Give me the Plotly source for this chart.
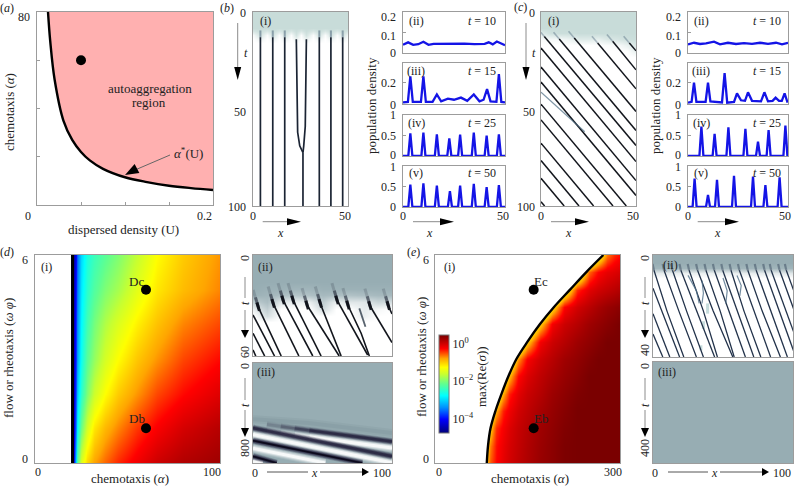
import plotly.graph_objects as go

W, H = 796, 486
FONT = "Liberation Serif"
INK = "#222222"
FRAME = "#9c9c9c"
BLUE = "#1414e6"
STRIPE = "#12151c"

# ---------- (a)
a_U = [0.0125, 0.015, 0.02, 0.03, 0.04, 0.05, 0.06, 0.075, 0.1, 0.125, 0.15, 0.175, 0.2]
a_alpha = [80, 68, 52, 35, 27, 22, 18.5, 15, 11.5, 9.5, 8, 7, 6.2]
a_dot = ([0.05], [60])

# ---------- (b)(i) stripes: x, t
b1_stripes = [
    ([3.9, 3.9], [13, 100]), ([10.4, 10.4], [13, 100]), ([16.7, 16.7], [13, 100]),
    ([22.8, 23.0, 23.5, 24.6, 25.8, 26.3], [14, 40, 62, 69, 72, 72.5]),
    ([28.1, 27.9, 27.5, 26.7, 26.3], [14, 35, 59, 69, 72.5]),
    ([26.3, 26.3], [72.5, 100]),
    ([34.9, 34.9], [13, 100]), ([41, 41], [13, 100]), ([47.2, 47.2], [13, 100]),
]
b1_x = [0, 3.9, 7.2, 10.4, 13.5, 16.7, 19.8, 22.8, 25.5, 28.1, 31.5, 34.9, 38, 41, 44.1, 47.2, 50]
b1_t = [0, 8, 10, 12, 14, 16]
b1_z = [
    [1] * 17,
    [1] * 17,
    [.75, .95, .7, .95, .7, .95, .7, .95, .7, .95, .7, .95, .7, .95, .7, .95, .75],
    [.15, .8, .1, .8, .1, .8, .1, .8, .1, .8, .1, .8, .1, .8, .1, .8, .15],
    [0, .35, 0, .35, 0, .35, 0, .35, 0, .35, 0, .35, 0, .35, 0, .35, 0],
    [0] * 17,
]

# ---------- (c)(i) stripes
c1_stripes = [
    ([1.75, 50], [12.6, 68.8]), ([9.6, 50], [13.9, 61.1]), ([17.5, 50], [13.4, 51.3]),
    ([29.8, 50], [16, 39.6]), ([37.7, 50], [15.1, 29.8]), ([46.5, 50], [16, 20]),
    ([0, 50], [18.6, 77.1]), ([0, 50], [28.4, 86.9]), ([0, 50], [36.1, 94.6]),
    ([0, 44.9], [47.5, 100]), ([0, 37.9], [55.6, 100]), ([0, 27.7], [67.6, 100]),
    ([0, 20], [76.6, 100]), ([0, 12.2], [85.7, 100]), ([0, 1.9], [97.8, 100]),
]
c1_faint = ([0, 23], [41.3, 61.7])
c1_x = [0, 5, 10, 15, 20, 25, 30, 35, 40, 45, 50]
c1_t = [0, 8, 11, 14, 17, 20, 23]
c1_z = [
    [1] * 11,
    [1] * 11,
    [.6, .9, .95, .95, 1, 1, 1, 1, 1, 1, 1],
    [.1, .2, .2, .35, .6, .6, .45, .7, .75, .9, .95],
    [0, 0, 0, 0, 0, 0, .05, .1, .15, .4, .7],
    [0, 0, 0, 0, 0, 0, 0, 0, 0, .05, .45],
    [0] * 11,
]

# ---------- density profiles: x, value
bii_x = [0, 2.5, 5, 7.5, 10, 12.5, 15, 20, 25, 30, 35, 40, 42, 44, 46, 48, 50]
bii_y = [.04, .052, .04, .043, .055, .04, .045, .046, .045, .046, .043, .045, .052, .042, .056, .045, .038]
biii_x = [0, 2.4, 3.6, 4.8, 8.8, 10, 11.2, 14.5, 16.6, 18.7, 22, 25, 28.4, 31.5, 34.7, 37.5, 39.5, 41.2, 42.9, 45.8, 47, 48.2, 50]
biii_y = [.015, .02, .26, .02, .02, .26, .02, .02, .09, .025, .05, .04, .06, .03, .09, .025, .04, .14, .025, .02, .28, .02, .015]
biv_x = [0, 2.6, 3.6, 4.6, 9, 10, 11, 15.6, 16.6, 17.6, 21.7, 22.7, 23.7, 27, 28, 29, 33.7, 34.7, 35.7, 40, 41, 42, 46, 47, 48, 50]
biv_y = [0, 0, .55, 0, 0, .57, 0, 0, .53, 0, 0, .43, 0, 0, .52, 0, 0, .57, 0, 0, .5, 0, 0, .53, 0, 0]
bv_x = [0, 2.6, 3.6, 4.6, 9, 10, 11, 15.6, 16.6, 17.6, 22, 23, 24, 27, 28, 29, 33.7, 34.7, 35.7, 40, 41, 42, 46, 47, 48, 50]
bv_y = [0, 0, .55, 0, 0, .58, 0, 0, .53, 0, 0, .39, 0, 0, .53, 0, 0, .57, 0, 0, .49, 0, 0, .54, 0, 0]
cii_x = [0, 3, 6, 9, 13, 16, 20, 24, 28, 32, 36, 40, 44, 47, 50]
cii_y = [.042, .05, .044, .047, .055, .042, .05, .044, .048, .045, .05, .045, .05, .042, .05]
ciii_x = [0, 1.8, 3, 4.2, 8.8, 10, 11.2, 17, 18.3, 19.6, 23, 24.5, 26.5, 28.5, 30, 32, 36.5, 38.2, 40, 42.3, 43.8, 45.5, 46.9, 48.3, 49.8]
ciii_y = [.012, .02, .2, .02, .02, .2, .025, .015, .29, .012, .02, .1, .035, .03, .11, .03, .025, .11, .025, .03, .06, .03, .03, .1, .012]
civ_x = [0, 5.7, 6.7, 7.7, 12.3, 13.3, 14.3, 19.2, 20.2, 21.2, 27.7, 28.7, 29.7, 34, 35, 36, 39.3, 40.3, 41.3, 47.7, 48.7, 49.7]
civ_y = [0, 0, .72, 0, 0, .54, 0, 0, .7, 0, 0, .66, 0, 0, .35, 0, 0, .63, 0, 0, .74, 0]
cv_x = [0, 2.3, 3.3, 4.3, 9, 10, 11, 13.5, 14.5, 15.5, 22, 23, 24, 31.5, 32.5, 33.5, 37.7, 38.7, 39.7, 44.8, 45.8, 46.8, 50]
cv_y = [0, 0, .7, 0, 0, .3, 0, 0, .67, 0, 0, .77, 0, 0, .75, 0, 0, .54, 0, 0, .73, 0, 0]

# ---------- (d)(i) growth rate log10
d1_alpha = [20, 21, 22, 23, 25, 28, 32, 38, 45, 55, 66, 80, 100]
d1_phi = [0, 1, 2, 3, 4, 5, 6]
d1_z = [
    [-4.77, -3.9, -2.9, -2.2, -1.5, -1.05, -.8, -.6, -.4, -.2, 0, .15, .25],
    [-4.77, -4.1, -3.4, -2.8, -2.1, -1.55, -1.15, -.9, -.7, -.45, -.25, -.05, .12],
    [-4.77, -4.2, -3.6, -3.1, -2.5, -2.0, -1.6, -1.27, -1.0, -.75, -.5, -.3, -.1],
    [-4.77, -4.25, -3.75, -3.3, -2.7, -2.2, -1.9, -1.55, -1.27, -.98, -.75, -.5, -.3],
    [-4.77, -4.3, -3.8, -3.4, -2.8, -2.35, -2.05, -1.75, -1.5, -1.2, -.95, -.7, -.5],
    [-4.77, -4.35, -3.9, -3.5, -2.9, -2.5, -2.25, -2.0, -1.8, -1.45, -1.15, -.92, -.7],
    [-4.77, -4.4, -4.0, -3.6, -3.0, -2.6, -2.4, -2.2, -2.0, -1.65, -1.27, -1.0, -.75],
]
d1_edge = ([20.3, 20.3], [0, 6])
d1_dots = ([60, 60], [1, 5])

# ---------- (d)(ii)
d2_stripes = [
    ([3.6, 20.3], [30.7, 60]), ([14.4, 33], [28.7, 60]), ([21.5, 43], [26.7, 60]),
    ([28.7, 49], [26.7, 60]), ([38.8, 62], [29.7, 60]), ([48.3, 63.4], [28.7, 60]),
    ([60.3, 82.5], [26.7, 59.4]), ([68.2, 77.8, 83.7], [29.7, 46.5, 60]),
    ([84, 100], [30, 52]), ([97.2, 100], [30, 35]),
    ([0, 15.5], [35.6, 60]), ([0, 8.4], [46.5, 60]), ([0, 2], [56.4, 60]),
]
d2_faint = ([76.5, 80.9], [31.7, 42.6])
d2_x = [0, 10, 20, 30, 40, 50, 60, 70, 80, 90, 100]
d2_t = [0, 16, 20, 24, 28, 32, 36, 40]
d2_z = [
    [1] * 11,
    [1] * 11,
    [1, .95, .95, .9, .9, .95, .95, .95, .95, .95, .95],
    [.95, .9, .8, .7, .75, .85, .8, .75, .8, .85, .85],
    [.6, .8, .3, .2, .2, .6, .2, .3, .3, .5, .4],
    [.2, .6, 0, 0, 0, .45, 0, 0, .25, .1, 0],
    [0, .4, 0, 0, 0, 0, 0, 0, .2, 0, 0],
    [0] * 11,
]

# ---------- (d)(iii)
d3_dark = [
    ([0, 100], [520, 747]), ([0, 78.6], [621, 800]), ([0, 17], [747, 800]),
    ([40.5, 100], [539, 629]),
]
d3_light = [
    ([0, 100], [572, 799]), ([0, 52], [682, 800]), ([0, 7], [788, 800]),
    ([40.5, 100], [590, 681]),
]
d3_soft = [([0, 40, 100], [450, 480, 560])]
d3_dark_fade = [([10, 20], [492, 508]), ([20, 30], [508, 523]), ([30, 40.5], [523, 539])]
d3_light_fade = [([10, 20], [543, 559]), ([20, 30], [559, 574]), ([30, 40.5], [574, 590])]
d3_fade_op = [.2, .4, .7]

# ---------- (e)(i)
e1_alpha = [80, 90, 100, 110, 120, 135, 150, 170, 190, 210, 230, 250, 265, 280, 290, 300]
e1_phi = [0, .5, 1, 1.5, 2, 2.5, 3, 3.5, 4, 4.5, 5, 5.5, 6]
e1_z = [
    [-1.2, -.56, -.29, -.14, -.04, .07, .16, .28, .35, .43, .45, .45, .45, .45, .45, .45],
    [-1.3, -.68, -.32, -.17, -.06, .05, .15, .27, .35, .43, .45, .45, .45, .45, .45, .45],
    [-1.5, -1, -.42, -.23, -.1, .03, .12, .25, .33, .41, .45, .45, .45, .45, .45, .45],
    [-1.9, -1.4, -.84, -.37, -.2, -.03, .07, .2, .3, .38, .45, .45, .45, .45, .45, .45],
    [-2.4, -1.9, -1.4, -.84, -.37, -.13, .01, .13, .26, .34, .42, .45, .45, .45, .45, .45],
    [-3, -2.45, -1.95, -1.45, -.92, -.29, -.09, .07, .19, .29, .37, .45, .45, .45, .45, .45],
    [-3, -3, -2.6, -2.1, -1.6, -.76, -.25, -.02, .11, .24, .32, .4, .45, .45, .45, .45],
    [-3, -3, -3, -3, -2.5, -1.75, -1, -.22, 0, .12, .25, .33, .39, .45, .45, .45],
    [-3, -3, -3, -3, -3, -2.75, -2, -1, -.22, 0, .12, .25, .31, .37, .41, .45],
    [-3, -3, -3, -3, -3, -3, -3, -2.15, -1.15, -.27, -.03, .1, .2, .28, .32, .36],
    [-3, -3, -3, -3, -3, -3, -3, -3, -2.45, -1.45, -.4, -.12, -.02, .05, .1, .15],
    [-3, -3, -3, -3, -3, -3, -3, -3, -3, -2.75, -1.75, -.6, -.28, -.15, -.1, -.05],
    [-3, -3, -3, -3, -3, -3, -3, -3, -3, -3, -3, -2.15, -1.4, -.65, -.42, -.3],
]
e1_edge_alpha = [84, 86, 90, 98, 108, 119, 132, 150, 170, 193, 219, 245, 273]
e1_edge_phi = [0, .5, 1, 1.5, 2, 2.5, 3, 3.5, 4, 4.5, 5, 5.5, 6]
e1_dots = ([160, 160], [1, 5])
cbar_vals = [0, -2, -4]
cbar_text = ["10<sup>0</sup>", "10<sup>−2</sup>", "10<sup>−4</sup>"]

# ---------- (e)(ii) stripes: x at t = 6, 22, 40
e2_t = [6, 22, 40]
e2_x = [
    [.7, 10, 22], [7.9, 18.5, 31], [13.9, 24, 36], [19.9, 31, 44], [25.8, 36, 46],
    [31.8, 43, 57], [37.8, 48, 58], [43.8, 54, 66], [49.8, 60, 72], [55.7, 65, 77],
    [61.7, 72, 84], [67.7, 78, 91], [73.7, 84, 96], [79.7, 90, 102], [84.4, 95, 107],
    [90.4, 101, 112], [95.2, 106, 118],
]
e2_left = [([0, 19], [13, 40]), ([0, 12], [23, 40]), ([0, 7], [31, 40])]
e2_branch = [([25, 31, 33], [8, 14, 19]), ([50, 53, 52], [9, 14, 19]), ([60, 63, 62], [8, 12, 16]), ([35, 36, 35], [10, 15, 19])]
e2_pale = [([39, 39], [19, 23]), ([36, 36], [26, 29]), ([34.2, 34.2], [35.4, 37.4])]
e2_grid_x = [0, 20, 40, 60, 80, 100]
e2_grid_t = [0, 3, 5, 7, 9]
e2_z = [[1] * 6, [1] * 6, [.9] * 6, [.25, .2, .2, .2, .25, .3], [0] * 6]

flat_x = [0, 100]
flat_t = [0, 1]
flat_z = [[1, 1], [1, 1]]
d3_flat_t = [0, 800]

# ---------- colours
GRID_GRAY = "#97adb3"
TOP_GREEN = "#c8dcd9"
JET = [[0, "#00007a"], [.14, "#0000ff"], [.26, "#0090ff"], [.38, "#00ffff"], [.5, "#60ff90"],
       [.6, "#c8ff30"], [.67, "#ffff00"], [.76, "#ffa500"], [.86, "#ff0000"], [1, "#7a0000"]]

fig = go.Figure()
axn = 0
shapes, notes = [], []


def P(px, py):
    return px / W, 1 - py / H


def panel(x0, x1, y0, y1, xr, yr, xt=None, yt=None):
    global axn
    axn += 1
    sx = "" if axn == 1 else str(axn)
    common = dict(showline=True, mirror=True, linecolor=FRAME, linewidth=1, showgrid=False, zeroline=False,
                  showticklabels=False, ticklen=3, tickcolor=FRAME, tickwidth=1)
    fig.layout["xaxis" + sx] = dict(common, domain=[x0 / W, x1 / W], range=xr, anchor="y" + sx,
                                    tickvals=xt or [], ticks="inside" if xt else "")
    fig.layout["yaxis" + sx] = dict(common, domain=[1 - y1 / H, 1 - y0 / H], range=yr, anchor="x" + sx,
                                    tickvals=yt or [], ticks="inside" if yt else "")
    return dict(xaxis="x" + sx, yaxis="y" + sx)


def bg(ax, x, y, z, col):
    fig.add_trace(go.Heatmap(x=x, y=y, z=z, zmin=0, zmax=1, zsmooth="best", showscale=False, hoverinfo="skip",
                             colorscale=[[0, "#ffffff"], [1, col]], **ax))


def line(ax, x, y, col=STRIPE, w=1.5, op=1.0, shape="linear"):
    fig.add_trace(go.Scatter(x=x, y=y, mode="lines", line=dict(color=col, width=w, shape=shape), opacity=op,
                             showlegend=False, hoverinfo="skip", **ax))


def dots(ax, x, y, size=10):
    fig.add_trace(go.Scatter(x=x, y=y, mode="markers", marker=dict(color="black", size=size),
                             showlegend=False, hoverinfo="skip", **ax))


def T(px, py, text, size=12, angle=0, anchor="center"):
    x, y = P(px, py)
    notes.append(dict(x=x, y=y, xref="paper", yref="paper", text=text, showarrow=False, textangle=angle,
                      xanchor=anchor, yanchor="middle", font=dict(family=FONT, size=size, color=INK)))


def seg(x0, y0, x1, y1, col="#8c8c8c", w=1):
    a, b = P(x0, y0), P(x1, y1)
    shapes.append(dict(type="line", xref="paper", yref="paper", x0=a[0], y0=a[1], x1=b[0], y1=b[1],
                       line=dict(color=col, width=w)))


def head(bx, by, tx, ty, half):
    dx, dy = tx - bx, ty - by
    n = (dx * dx + dy * dy) ** .5
    ox, oy = -dy / n * half, dx / n * half
    pts = [P(tx, ty), P(bx + ox, by + oy), P(bx - ox, by - oy)]
    path = "M{} {} L{} {} L{} {} Z".format(pts[0][0], pts[0][1], pts[1][0], pts[1][1], pts[2][0], pts[2][1])
    shapes.append(dict(type="path", xref="paper", yref="paper", path=path, fillcolor="black", line=dict(width=0)))


def stripes(ax, lst, w=1.6, col=STRIPE):
    for x, y in lst:
        line(ax, x, y, col, w)


def density(ax, x, y):
    line(ax, x, y, BLUE, 2.3)


# ----- (a)
ax = panel(37, 213, 12, 205, [0, .2], [0, 80], xt=[.05, .1, .15], yt=[20, 40, 60])
fig.add_trace(go.Scatter(x=a_U + [.2, a_U[0]], y=a_alpha + [80, 80], mode="lines", fill="toself", fillcolor="#ffb0b0",
                         line=dict(width=0), showlegend=False, hoverinfo="skip", **ax))
line(ax, a_U, a_alpha, "black", 2.4, shape="spline")
dots(ax, *a_dot)
T(150, 88, "autoaggregation", 13); T(149, 103, "region", 13)
T(188, 153, "<i>α</i><sup>*</sup>(U)", 13)
seg(170, 155, 135, 170, "#666666"); head(137, 168.5, 125, 175, 5)
T(9, 112, "chemotaxis (<i>α</i>)", 13, -90)
T(123, 229, "dispersed density (U)", 13)
T(24, 17, "80"); T(28, 216, "0"); T(204, 216, "0.2")
T(7, 8, "(<i>a</i>)")

# ----- (b)(i)
ax = panel(253, 348, 12, 206, [0, 50], [100, 0])
bg(ax, b1_x, b1_t, b1_z, TOP_GREEN)
for x, y in b1_stripes[:3] + b1_stripes[6:]:
    line(ax, [x[0], x[0]], [9.5, y[0]], "#35506a", 2, .45)
stripes(ax, b1_stripes, 1.7, "#1b2433")
T(265, 21, "(i)"); T(227, 8, "(<i>b</i>)")
T(248, 13, "0", anchor="right"); T(248, 112, "50", anchor="right"); T(248, 207, "100", anchor="right")
T(253, 216, "0"); T(345, 216, "50"); T(280, 233, "<i>x</i>"); T(246, 53, "<i>t</i>")
seg(237.7, 23, 237.7, 67); head(237.7, 67, 237.7, 80, 3.5)
seg(262.7, 221.7, 287, 221.7); head(287, 221.7, 301, 221.7, 3.5)

# ----- (b) profiles
rows = [(12, 53), (63, 104), (115, 156), (166, 207)]
row_y = [[0, .2], [0, .385], [0, 1], [0, 1.01]]
row_yt = [[.1], [.2], [.5], [.5]]
row_lab = ["(ii)", "(iii)", "(iv)", "(v)"]
row_t = ["10", "15", "25", "50"]
row_ly = [21, 71, 123, 173]
b_prof = [(bii_x, bii_y), (biii_x, biii_y), (biv_x, biv_y), (bv_x, bv_y)]
c_prof = [(cii_x, cii_y), (ciii_x, ciii_y), (civ_x, civ_y), (cv_x, cv_y)]
tick_text = [[("0.2", 17), ("0.1", 36), ("0", 53)], [("0.2", 83), ("0", 105)], [("1", 115), ("0.5", 136), ("0", 155)],
             [("1", 167), ("0.5", 187), ("0", 207)]]
for prof, x0, x1, labx, tlabx, tickx in ((b_prof, 403, 505, 416, 482, None), (c_prof, 688, 788, 701, 767, 683)):
    for i, (r, prf) in enumerate(zip(rows, prof)):
        ax = panel(x0, x1, r[0], r[1], [0, 50], row_y[i], yt=row_yt[i])
        density(ax, *prf)
        T(labx, row_ly[i], row_lab[i]); T(tlabx, row_ly[i], "<i>t</i> = " + row_t[i])
        for s, py in tick_text[i]:
            T(398 if tickx is None else tickx, py, s, anchor="right")
T(371, 106, "population density", 13, -90); T(655, 106, "population density", 13, -90)
T(403, 216, "0"); T(503, 216, "50"); T(430, 233, "<i>x</i>")
T(688, 216, "0"); T(785, 216, "50"); T(717, 233, "<i>x</i>")
seg(413, 221.7, 440, 221.7); head(440, 221.7, 454, 221.7, 3.5)
seg(697.7, 221.7, 725, 221.7); head(725, 221.7, 739, 221.7, 3.5)

# ----- (c)(i)
ax = panel(541, 636, 12, 206, [0, 50], [100, 0])
bg(ax, c1_x, c1_t, c1_z, TOP_GREEN)
for x, y in c1_stripes[:6]:
    line(ax, [x[0] - 3, x[0]], [y[0] - 3.5, y[0]], "#35506a", 1.6, .35)
stripes(ax, c1_stripes, 1.5)
line(ax, *c1_faint, "#4a6a80", 1.3, .7)
T(553, 21, "(i)"); T(520, 7, "(<i>c</i>)")
T(537, 13, "0", anchor="right"); T(537, 112, "50", anchor="right"); T(537, 207, "100", anchor="right")
T(541, 216, "0"); T(633, 216, "50"); T(568, 233, "<i>x</i>"); T(534, 53, "<i>t</i>")
seg(526, 23, 526, 67); head(526, 67, 526, 80, 3.5)
seg(551, 221.7, 575, 221.7); head(575, 221.7, 589, 221.7, 3.5)

# ----- (d)(i)
ax = panel(35, 220, 255, 463, [0, 100], [0, 6])
fig.add_trace(go.Heatmap(x=d1_alpha, y=d1_phi, z=d1_z, zmin=-4.77, zmax=.45, zsmooth="best", colorscale=JET,
                         showscale=False, hoverinfo="skip", **ax))
line(ax, *d1_edge, "black", 3)
dots(ax, *d1_dots)
T(136.7, 281, "Dc", 13); T(136.7, 418, "Db", 13); T(46, 267, "(i)")
T(8, 358, "flow or rheotaxis (<i>ω φ</i>)", 13, -90)
T(25, 260, "6"); T(25, 459, "0"); T(38, 472, "0"); T(212, 472, "100")
T(130, 478, "chemotaxis (<i>α</i>)", 13); T(7, 252, "(<i>d</i>)")

# ----- (d)(ii)
ax = panel(253, 392, 255, 356, [0, 100], [60, 0])
bg(ax, d2_x, d2_t, d2_z, GRID_GRAY)
for x, y in d2_stripes[:10]:
    line(ax, [x[0] - 3.5, x[0]], [y[0] - 10, y[0]], "#1a2030", 3, .18)
    line(ax, [x[0] - 1.8, x[0] + .5], [y[0] - 5.5, y[0] + 1], "#1a2030", 3, .5)
    line(ax, [x[0] - .8, x[0] + 1], [y[0] - 2.5, y[0] + 2.5], "#0d0f18", 3, .95)
stripes(ax, d2_stripes, 1.6)
line(ax, *d2_faint, "#22303f", 1.8, .75)
T(265, 267, "(ii)"); T(245, 258, "0", angle=-90); T(245, 352, "60", angle=-90); T(245, 303, "<i>t</i>", angle=-90)
seg(245, 277, 245, 298); seg(245, 310, 245, 330); head(245, 330, 245, 338, 4)

# ----- (d)(iii)
ax = panel(253, 392, 363, 463, [0, 100], [800, 0])
bg(ax, flat_x, d3_flat_t, flat_z, GRID_GRAY)
for x, y in d3_soft:
    line(ax, x, y, "#5f757e", 8, .1); line(ax, x, y, "#5f757e", 4, .12)
for (x, y), op in zip(d3_light_fade, d3_fade_op):
    for w, o in ((9, .15), (7, .25), (5, .45), (3, .7)):
        line(ax, x, y, "#ffffff", w, o * op)
for x, y in d3_light:
    for w, op in ((9, .15), (7, .25), (5, .45), (3, .8)):
        line(ax, x, y, "#ffffff", w, op)
for (x, y), op in zip(d3_dark_fade, d3_fade_op):
    for w, o in ((7, .18), (5.5, .3), (4, .4), (2.5, .6)):
        line(ax, x, y, "#1f1b38", w, o * op)
for x, y in d3_dark:
    for w, op in ((7, .18), (5.5, .3), (4, .42), (2.5, .65)):
        line(ax, x, y, "#1f1b38", w, op)
stripes(ax, d3_dark[1:3], 1.6, "#0c0a1c")
T(266, 372, "(iii)"); T(245, 366, "0", angle=-90); T(245, 448, "800", angle=-90); T(245, 405, "<i>t</i>", angle=-90)
seg(245, 378, 245, 400); seg(245, 410, 245, 428); head(245, 428, 245, 437, 4)
T(255, 473, "0"); T(382, 473, "100"); T(314, 473, "<i>x</i>")
seg(267, 472, 308, 472, "#555555"); seg(320, 472, 362, 472, "#555555"); head(362, 472, 369, 472, 4)

# ----- (e)(i)
ax = panel(435, 620, 255, 463, [0, 300], [0, 6])
fig.add_trace(go.Heatmap(x=e1_alpha, y=e1_phi, z=e1_z, zmin=-4.77, zmax=.45, zsmooth="best", colorscale=JET,
                         hoverinfo="skip", showscale=True,
                         colorbar=dict(x=439 / W, xanchor="left", y=1 - 433 / H, yanchor="bottom", len=98 / H,
                                       lenmode="fraction", thickness=10, thicknessmode="pixels",
                                       outlinecolor="#777777", outlinewidth=1, tickmode="array", tickvals=cbar_vals,
                                       ticktext=cbar_text, ticks="", tickfont=dict(family=FONT, size=12, color=INK),
                                       xpad=0, ypad=0), **ax))
fig.add_trace(go.Scatter(x=e1_edge_alpha + [0, 0], y=e1_edge_phi + [6, 0], mode="lines", fill="toself",
                         fillcolor="white", line=dict(width=0, shape="linear"), showlegend=False, hoverinfo="skip", **ax))
line(ax, e1_edge_alpha, e1_edge_phi, "black", 2.4, shape="spline")
dots(ax, *e1_dots)
T(541, 281, "Ec", 13); T(541, 418, "Eb", 13); T(450, 267, "(i)")
T(421, 357, "flow or rheotaxis (<i>ω φ</i>)", 13, -90)
T(426, 260, "6"); T(426, 459, "0"); T(439, 472, "0"); T(613, 472, "300")
T(530, 478, "chemotaxis (<i>α</i>)", 13); T(413, 252, "(<i>e</i>)")
T(481, 377, "max(Re(<i>σ</i>))", 13, -90)

# ----- (e)(ii)
ax = panel(653, 793, 255, 357, [0, 100], [40, 0])
bg(ax, e2_grid_x, e2_grid_t, e2_z, GRID_GRAY)
for xs in e2_x:
    line(ax, [xs[0] - 1, xs[0]], [3.5, e2_t[0]], "#22324a", 2.2, .4)
for x, y in e2_pale:
    line(ax, x, y, "#b8d4d4", 3, .8)
for xs in e2_x:
    line(ax, xs, e2_t, "#22324a", 1.3)
for x, y in e2_left:
    line(ax, x, y, "#22324a", 1.3)
for x, y in e2_branch:
    line(ax, x, y, "#4f6f88", 1.2, .8)
T(670, 265, "(ii)"); T(645, 258, "0", angle=-90); T(645, 350, "40", angle=-90); T(645, 303, "<i>t</i>", angle=-90)
seg(645, 277, 645, 298); seg(645, 310, 645, 330); head(645, 330, 645, 338, 4)

# ----- (e)(iii)
ax = panel(653, 793, 362, 463, [0, 100], [0, 1])
bg(ax, flat_x, flat_t, flat_z, GRID_GRAY)
T(667, 372, "(iii)"); T(645, 366, "0", angle=-90); T(645, 448, "400", angle=-90); T(645, 405, "<i>t</i>", angle=-90)
seg(645, 378, 645, 400); seg(645, 410, 645, 428); head(645, 428, 645, 437, 4)
T(655, 473, "0"); T(782, 473, "100"); T(714, 473, "<i>x</i>")
seg(668, 472, 708, 472, "#555555"); seg(720, 472, 762, 472, "#555555"); head(762, 472, 769, 472, 4)

fig.update_layout(width=W, height=H, margin=dict(l=0, r=0, t=0, b=0, autoexpand=False), paper_bgcolor="white",
                  plot_bgcolor="white", showlegend=False, shapes=shapes, annotations=notes,
                  font=dict(family=FONT, size=12, color=INK))
fig.write_html("out.html", post_script="document.body.style.margin='0';", config=dict(displayModeBar=False))
